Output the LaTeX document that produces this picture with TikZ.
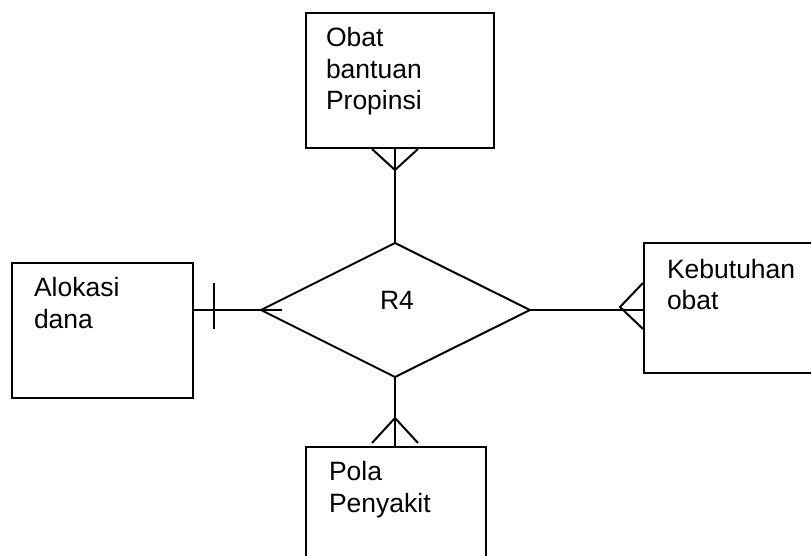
\documentclass[tikz,border=0pt]{standalone}
\usepackage{fontspec}
\setmainfont{Liberation Sans}
\usetikzlibrary{calc}
\begin{document}
\begin{tikzpicture}[x=1pt, y=-1pt, line width=2pt,
  entity/.style={draw, rectangle, inner sep=0pt, anchor=north west},
  lbl/.style={inner sep=0pt, anchor=base west, font=\fontsize{26.5}{32}\selectfont}]
\useasboundingbox (0,0) rectangle (811,556);

% entity boxes
\node[entity, minimum width=188pt, minimum height=135pt] (prov) at (305,12) {};
\node[entity, minimum width=181pt, minimum height=135pt] (alok) at (11,262) {};
\node[entity, minimum width=190pt, minimum height=130pt] (kebut) at (643,242) {};
\node[entity, minimum width=180pt, minimum height=140pt] (pola) at (305,446) {};

% entity names
\node[lbl] (prov1) at (325,47) {Obat};
\node[lbl] (prov2) at (325,79) {bantuan};
\node[lbl] (prov3) at (325,110) {Propinsi};
\node[lbl] (alok1) at (33,296) {Alokasi};
\node[lbl] (alok2) at (33,328) {dana};
\node[lbl] (kebut1) at (666,278) {Kebutuhan};
\node[lbl] (kebut2) at (666,309) {obat};
\node[lbl] (pola1) at (328,480) {Pola};
\node[lbl] (pola2) at (328,512) {Penyakit};

% relationship diamond
\coordinate (dT) at (395,243);
\coordinate (dR) at (530,310);
\coordinate (dB) at (395,377);
\coordinate (dL) at (261,310);
\draw (dT) -- (dR) -- (dB) -- (dL) -- cycle;
\node[inner sep=0pt, font=\fontsize{26.5}{32}\selectfont, anchor=base] (rel) at (397,309) {R4};

% top: many Obat bantuan Propinsi
\coordinate (topV) at (395,170);
\draw (dT) -- (dT |- prov.south);
\draw ($(dT |- prov.south)+(-23,0)$) -- (topV) -- ($(dT |- prov.south)+(23,0)$);

% left: one Alokasi dana
\coordinate (leftIn) at (282,310);
\coordinate (barT) at (214,283);
\coordinate (barB) at (214,329);
\draw (alok.east |- dL) -- (leftIn);
\draw (barT) -- (barB);

% right: many Kebutuhan obat
\coordinate (rightV) at (620,307);
\draw (dR) -- (kebut.west |- dR);
\draw ($(kebut.west |- dR)+(0,-27)$) -- (rightV) -- ($(kebut.west |- dR)+(0,19)$);

% bottom: many Pola Penyakit
\coordinate (botV) at (395,418);
\draw (dB) -- (dB |- pola.north);
\draw ($(dB |- pola.north)+(-23,-3)$) -- (botV) -- ($(dB |- pola.north)+(23,-3)$);
\end{tikzpicture}
\end{document}
